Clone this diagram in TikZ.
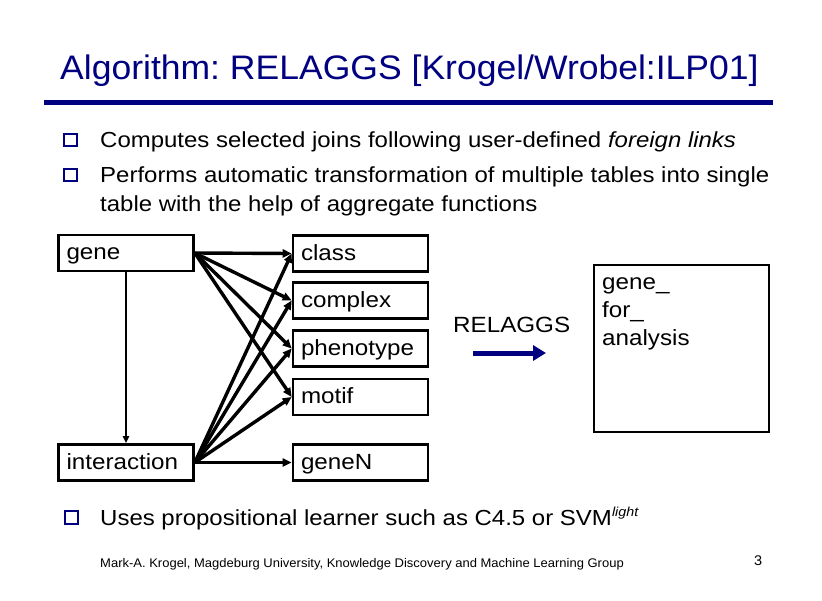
\documentclass[tikz,border=0pt]{standalone}
\usepackage{fontspec}
\setmainfont[FakeStretch=1.1]{Liberation Sans}
\newfontfamily\titlefam[FakeStretch=1.045]{Liberation Sans}
\newfontfamily\footfam[FakeStretch=1.04]{Liberation Sans}
\usetikzlibrary{arrows.meta}
\definecolor{navy}{RGB}{0,0,128}
\frenchspacing
\begin{document}
\begin{tikzpicture}[x=1pt,y=-1pt,
  box/.style={draw, line width=2.6pt, minimum width=135pt, minimum height=36pt,
    inner xsep=8pt, inner ysep=0pt, text width=119pt, align=left,
    text height=17pt, text depth=4pt, font=\fontsize{22}{26}\selectfont},
  link/.style={line width=3.4pt, -{Triangle[length=9pt,width=8pt]}},
  thinlink/.style={line width=1.7pt, -{Triangle[length=7pt,width=6pt]}},
  bsq/.style={draw=navy, line width=1.9pt, minimum size=12.5pt, inner sep=0pt},
  btext/.style={anchor=base west, inner sep=0pt, align=left,
    font=\fontsize{21.8}{29}\selectfont},
]
\useasboundingbox (0,0) rectangle (822,600);
\fill[white] (0,0) rectangle (822,600);
% title
\node[anchor=base west, inner sep=0pt, text=navy, font=\titlefam\fontsize{34}{40}\selectfont]
  (title) at (60,79) {Algorithm: RELAGGS [Krogel/Wrobel:ILP01]};
\draw[navy, line width=5pt] (44,102) -- (773,102);
% bullets
\node[bsq] (sq1) at (70.5,140) {};
\node[bsq] (sq2) at (70.5,175) {};
\node[bsq] (sq3) at (71.5,517.5) {};
\node[btext] (t1) at (100,147) {Computes selected joins following user-defined \textit{foreign links}};
\node[btext] (t2) at (100,211) {Performs automatic transformation of multiple tables into single\\table with the help of aggregate functions};
\node[btext] (t3) at (100,525) {Uses propositional learner such as C4.5 or SVM\raisebox{9pt}{\fontsize{13}{13}\selectfont\itshape light}};
% boxes
\node[box] (gene) at (126,253) {gene};
\node[box] (inter) at (126,462.5) {interaction};
\node[box] (class) at (360.5,253.5) {class};
\node[box] (complex) at (360.5,300.5) {complex};
\node[box] (pheno) at (360.5,348.5) {phenotype};
\node[box] (motif) at (360.5,397) {motif};
\node[box] (geneN) at (360.5,462.5) {geneN};
\node[draw, line width=2.8pt, minimum width=175pt, minimum height=167pt, inner sep=0pt]
  (gfa) at (681.5,348.5) {};
\node[anchor=base west, inner sep=0pt, align=left, font=\fontsize{22}{28}\selectfont]
  (gfat) at (602,345) {gene\_\\for\_\\analysis};
% connectors
\draw[thinlink] (gene.south) -- (inter.north);
\foreach \t in {class,complex,pheno,motif} {
  \draw[link] (gene.east) -- (\t.west);
  \draw[link] (inter.east) -- (\t.west);
}
\draw[link] (inter.east) -- (geneN.west);
% RELAGGS
\node[anchor=base west, inner sep=0pt, font=\fontsize{22}{26}\selectfont] (rel) at (453,332) {RELAGGS};
\coordinate (ra) at (473,353);
\coordinate (rb) at (546,353);
\draw[navy, line width=5pt, -{Triangle[length=13pt,width=15pt]}] (ra) -- (rb);
% footer
\node[anchor=base west, inner sep=0pt, font=\footfam\fontsize{12.5}{14}\selectfont] (foot) at (100,567)
  {Mark-A. Krogel, Magdeburg University, Knowledge Discovery and Machine Learning Group};
\node[anchor=base west, inner sep=0pt, font=\footfam\fontsize{14}{16}\selectfont] (pg) at (754,565) {3};
\end{tikzpicture}
\end{document}
